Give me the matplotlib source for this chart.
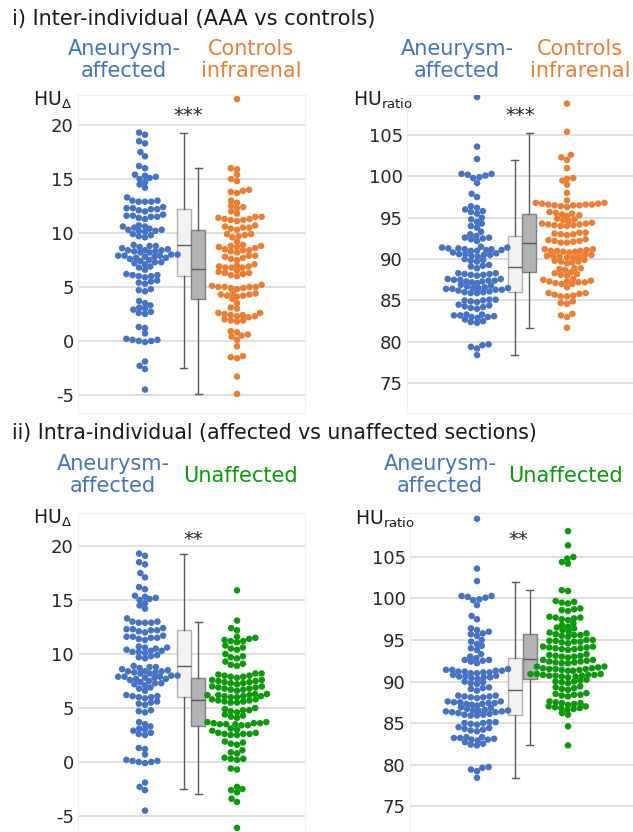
import numpy as np
import matplotlib
matplotlib.use("Agg")
import matplotlib.pyplot as plt

plt.rcParams['font.family'] = ['DejaVu Sans']
plt.rcParams['mathtext.fontset'] = 'dejavusans'
plt.rcParams['axes.unicode_minus'] = False

# ---------------- data ----------------
aaa_delta = [19.3, 19.1, 18.5, 18.3, 17.5, 17.1, 16.2, 16.0,
             15.4, 15.3, 15.2, 15.1, 15.0, 14.7, 14.5, 14.2,
             13.3, 13.0, 12.9, 12.9, 12.9, 13.0,
             12.3, 12.2, 12.1, 12.2, 12.0, 12.3, 12.4,
             11.6, 11.5, 11.4, 11.5, 11.3, 11.6, 11.7,
             10.6, 10.7, 10.5, 10.6,
             10.3, 10.2, 10.1, 10.2, 10.4, 10.3,
             9.7, 9.8, 9.6, 9.9,
             8.8, 8.7, 8.9, 8.6, 8.8,
             8.4, 8.4, 8.3, 8.2, 8.4, 8.3, 8.5, 8.2,
             7.9, 7.8, 8.0, 7.7, 7.9, 7.6, 8.0, 7.8, 7.9, 7.7,
             7.4, 7.3, 7.2, 7.5, 7.1, 7.3,
             6.8, 6.6, 6.9,
             6.1, 6.0, 6.2, 5.9, 6.1, 6.0,
             5.6, 5.4, 5.5, 5.3,
             4.8, 4.6, 4.7,
             3.7, 3.5, 3.3, 3.0, 3.1, 2.9,
             2.7, 2.5, 2.6,
             1.3, 1.2, 0.7,
             0.2, 0.1, 0.0, -0.1, 0.1, 0.0,
             -1.9, -2.3, -2.6, -4.5]

ctrl_delta = [22.4, 16.0, 15.9, 15.4, 15.0, 14.8,
              14.0, 13.8, 13.9, 13.7,
              13.0, 12.8, 12.5, 12.3, 12.4,
              12.0, 11.8, 11.5, 11.4, 11.5,
              11.3, 11.2, 11.1, 11.2, 11.3,
              10.6, 10.5, 10.4, 10.5, 10.3, 10.7,
              9.9, 9.8, 9.7, 9.9, 9.6,
              9.2, 8.8, 8.7, 8.9, 8.6, 8.7, 8.8,
              8.4, 8.5, 8.3, 8.4, 8.2,
              7.9, 7.6, 7.7, 7.8, 7.5, 7.9,
              7.1, 6.9, 6.8, 6.8, 7.0, 6.8, 6.9,
              6.5, 6.3, 6.4, 6.1, 6.0, 6.2, 6.3,
              5.2, 5.0, 4.9, 4.9, 5.0, 5.1, 5.0, 4.8, 5.0,
              4.4, 4.2, 4.3, 4.1, 4.3, 4.2, 4.4, 3.9,
              3.5, 3.1, 3.0,
              2.6, 2.4, 2.3, 2.5, 2.2, 2.4, 2.6, 2.3,
              2.0, 1.9, 1.8, 1.9,
              0.9, 0.6, 0.5, 0.8, 0.4, 0.1, -0.5,
              -1.4, -1.5, -1.6, -3.3, -4.9]

unaff_delta = [15.9, 13.1, 12.4, 12.2,
               11.6, 11.3, 11.2, 11.1, 11.5, 11.4, 11.2,
               10.8, 10.6, 10.4, 10.5,
               10.0, 9.8, 9.6, 9.7,
               9.3, 9.1, 8.9, 9.0,
               8.2, 8.0, 8.1, 7.9, 7.8, 8.0, 8.2, 7.9,
               7.6, 7.4, 7.3, 7.5, 7.2, 7.4, 7.3, 7.6, 7.5,
               7.0, 6.9, 6.8, 6.7, 6.9, 6.8, 6.7, 7.0, 6.6,
               6.3, 6.2, 6.1, 6.0, 6.2, 6.1, 6.3, 6.0, 6.2, 6.1,
               5.8, 5.7, 5.6, 5.5, 5.7, 5.8, 5.6, 5.5,
               5.0, 4.8, 4.7, 4.9, 4.6, 4.8,
               4.3, 4.2, 4.1, 4.4,
               3.7, 3.6, 3.5, 3.4, 3.6, 3.5, 3.7, 3.4, 3.5, 3.6,
               3.1, 3.0, 2.9,
               2.7, 2.6, 2.5, 2.6, 2.7, 2.5, 2.6,
               1.9, 1.7, 1.6, 1.8,
               1.1, 0.9, 0.8,
               0.4, 0.3, 0.2, 0.3,
               -0.6, -0.7, -2.3, -2.6, -2.5, -2.8, -3.4, -3.7, -6.1]

aaa_ratio = [109.6, 103.6, 102.1,
             100.3, 100.1, 99.8, 99.9, 100.2, 100.3, 99.2,
             97.9, 97.5,
             96.2, 96.0, 96.4, 95.7, 95.8, 95.5,
             95.0, 94.8, 94.5, 94.0, 93.8, 94.3,
             93.3, 93.0, 92.8, 92.6,
             92.5, 92.4, 92.2, 92.6,
             91.5, 91.4, 91.2, 91.0, 91.3, 91.1, 91.2, 91.0, 91.1, 91.4, 91.3,
             90.8, 90.6, 90.5, 90.7, 90.4, 90.3, 90.5, 90.6,
             89.9, 89.8, 89.7, 90.0,
             89.3, 89.1, 88.9, 89.2,
             88.3, 88.1, 88.2, 88.0, 88.3, 88.1, 88.2,
             87.5, 87.4, 87.3, 87.2, 87.6, 87.1, 87.4, 87.3, 87.5, 87.6,
             86.8, 86.7, 86.6, 86.9,
             86.5, 86.4, 86.3, 86.2, 86.5, 86.4, 86.3, 86.5,
             86.0, 85.9, 86.1, 85.9, 86.0,
             85.1, 85.0, 84.9, 84.8, 85.0, 85.1,
             84.5, 84.2, 84.1, 84.3, 84.4, 84.0,
             83.3, 83.2, 83.0, 82.9, 83.1, 83.2, 83.0, 83.3,
             82.7, 82.5, 82.3, 82.4,
             79.6, 79.4, 79.2, 79.7, 78.4]

ctrl_ratio = [108.8, 105.4, 102.6, 102.3, 102.0, 101.0,
              99.8, 99.5, 99.7, 99.0, 98.0, 97.1,
              96.8, 96.7, 96.6, 96.5, 96.4, 96.3, 96.5, 96.6, 96.7, 96.8, 96.6, 96.5,
              95.6, 95.5, 95.3, 95.4, 95.7, 95.2,
              94.9, 94.8, 94.6, 94.7,
              94.3, 94.2, 94.1, 94.0, 94.2, 94.3, 94.0, 94.1, 94.4,
              93.2, 93.0, 92.9, 93.1, 93.2, 93.0,
              92.4, 92.2, 92.0, 92.1, 92.3, 92.2, 92.0,
              91.2, 91.0, 90.9, 91.1, 90.8, 91.0, 90.9, 91.2, 91.0,
              90.5, 90.4, 90.3, 90.2, 90.4, 90.3, 90.5, 90.2,
              89.9, 89.7, 89.6, 89.8, 89.5, 89.7,
              88.9, 88.8, 88.7, 88.9,
              88.4, 88.2, 88.1, 88.3, 88.0,
              87.6, 87.5, 87.3, 87.2, 87.0, 87.1, 87.4, 87.2, 87.3, 87.0,
              86.6,
              85.9, 85.7, 85.5, 85.6, 85.8, 85.5, 85.9,
              84.9, 84.7, 84.6,
              83.4, 83.2, 83.0, 81.7]

unaff_ratio = [108.1, 106.4, 105.0, 104.8, 104.4, 104.2,
               101.0, 100.9,
               99.7, 99.6, 99.4, 99.5,
               98.8, 98.6, 98.5, 98.7,
               97.8, 97.7, 97.5, 97.6, 97.4, 97.7,
               97.0, 96.6, 96.4, 96.2, 96.5, 96.8,
               96.0, 95.8, 95.6, 95.5, 95.9, 95.7, 95.4, 95.6,
               95.0, 94.9, 94.8, 94.7, 94.9, 95.0, 94.8, 94.6,
               94.2, 94.0, 93.9, 94.1, 93.8, 94.0, 94.1, 93.9, 94.2,
               93.3, 93.1, 93.0, 93.2, 92.9, 93.1, 93.0,
               92.6, 92.4, 92.3, 92.5, 92.2, 92.4, 92.3, 92.6, 92.2,
               91.8, 91.6, 91.5, 91.4, 91.7, 91.3, 91.6, 91.5, 91.4, 91.8, 91.3, 91.5,
               90.9, 90.8, 90.7, 90.6, 90.9, 90.7, 90.8, 90.6, 90.9, 90.7, 90.8, 90.5,
               90.2, 90.0, 89.9, 90.1, 89.8, 90.0,
               89.4, 89.2, 89.0, 89.3, 89.1,
               88.6, 88.4, 88.3, 88.5, 88.2, 88.4,
               87.6, 87.4, 87.3, 87.5, 87.2, 87.4,
               87.0, 86.8, 86.7, 86.9, 86.6, 86.8, 87.0,
               86.2, 86.0, 84.6, 82.3]

# box statistics: [q1, median, q3, whisker_low, whisker_high]
box_aaa_delta = [6.0, 8.9, 12.2, -2.5, 19.3]
box_ctrl_delta = [3.9, 6.7, 10.3, -4.9, 16.0]
box_unaff_delta = [3.3, 5.7, 7.8, -3.0, 13.0]
box_aaa_ratio = [86.0, 89.0, 92.8, 78.4, 102.0]
box_ctrl_ratio = [88.4, 92.0, 95.5, 81.7, 105.3]
box_unaff_ratio = [90.3, 92.7, 95.7, 82.3, 101.0]

delta_ticks = [-5, 0, 5, 10, 15, 20]
ratio_ticks = [75, 80, 85, 90, 95, 100, 105]

title_top = "i) Inter-individual (AAA vs controls)"
title_bottom = "ii) Intra-individual (affected vs unaffected sections)"
lab_aaa = "Aneurysm-\naffected"
lab_ctrl = "Controls\ninfrarenal"
lab_unaff = "Unaffected"

BLUE = '#4472C4'
ORANGE = '#ED7D31'
GREEN = '#0A9A0A'

W, H = 633, 832
fig = plt.figure(figsize=(W / 100, H / 100), dpi=100)


def add_ax(x0, y0, x1, y1):
    return fig.add_axes([x0 / W, 1 - y1 / H, (x1 - x0) / W, (y1 - y0) / H])


def swarm(vals, xpx, ypx, d=6.3, tol=1.3):
    """Beeswarm: candidates touch a neighbour at distance d, a small
    overlap (tol) with other neighbours is tolerated so rows interleave."""
    vals = np.asarray(vals, float)
    order = np.argsort(vals, kind='stable')
    placed = []
    xs = np.zeros(len(vals))
    dmin2 = (d - tol) ** 2
    for i in order:
        y = vals[i] * ypx
        near = [(px, py) for px, py in placed if abs(py - y) < d]
        cands = [0.0]
        for px, py in near:
            dx = np.sqrt(max(d * d - (py - y) ** 2, 0))
            cands += [px - dx, px + dx]
        cands.sort(key=lambda c: (abs(c), c))
        chosen = cands[-1]
        for c in cands:
            if all((c - px) ** 2 + (y - py) ** 2 >= dmin2 for px, py in near):
                chosen = c
                break
        placed.append((chosen, y))
        xs[i] = chosen
    return xs / xpx


def panel(ax, left_vals, right_vals, left_col, right_col, box_l, box_r,
          xlim, ylim, ticks):
    ax.set_xlim(*xlim)
    ax.set_ylim(*ylim)
    bb = ax.get_position()
    xpx = bb.width * W / (xlim[1] - xlim[0])
    ypx = bb.height * H / (ylim[1] - ylim[0])
    for vals, pos, col in [(left_vals, 0.0, left_col), (right_vals, 1.0, right_col)]:
        off = swarm(vals, xpx, ypx)
        ax.scatter(pos + off, vals, s=22, color=col, edgecolors='none', zorder=3)
    stats = []
    for b in (box_l, box_r):
        stats.append(dict(q1=b[0], med=b[1], q3=b[2], whislo=b[3], whishi=b[4], fliers=[]))
    bp = ax.bxp(stats, positions=[0.42, 0.58], widths=0.155, patch_artist=True,
                showfliers=False, capwidths=0.075,
                medianprops=dict(color='#595959', lw=1.0),
                whiskerprops=dict(color='#595959', lw=1.0),
                capprops=dict(color='#595959', lw=1.0),
                boxprops=dict(lw=1.0), manage_ticks=False, zorder=2)
    bp['boxes'][0].set_facecolor('#f2f2f2')
    bp['boxes'][0].set_edgecolor('#b0b0b0')
    bp['boxes'][1].set_facecolor('#b3b3b3')
    bp['boxes'][1].set_edgecolor('#808080')
    ax.set_yticks(ticks)
    ax.set_yticklabels([str(t) for t in ticks])
    ax.set_xticks([])
    ax.tick_params(axis='y', length=0, pad=3, labelsize=13, labelcolor='#262626')
    ax.grid(axis='y', color='#d9d9d9', lw=1.2, zorder=0)
    ax.set_axisbelow(True)
    for s in ax.spines.values():
        s.set_color('#eeeeee')
        s.set_linewidth(0.8)


def T(x, y, s, **kw):
    kw.setdefault('ha', 'center')
    kw.setdefault('va', 'center')
    fig.text(x / W, 1 - y / H, s, **kw)


ax1 = add_ax(78, 95, 305, 413)
panel(ax1, aaa_delta, ctrl_delta, BLUE, ORANGE, box_aaa_delta, box_ctrl_delta,
      (-0.728, 1.739), (-6.67, 22.78), delta_ticks)
ax2 = add_ax(407, 95, 633, 413)
panel(ax2, aaa_ratio, ctrl_ratio, BLUE, ORANGE, box_aaa_ratio, box_ctrl_ratio,
      (-0.778, 1.733), (71.4, 109.84), ratio_ticks)
ax3 = add_ax(78, 513, 305, 832)
panel(ax3, aaa_delta, unaff_delta, BLUE, GREEN, box_aaa_delta, box_unaff_delta,
      (-0.728, 1.739), (-6.48, 23.06), delta_ticks)
ax4 = add_ax(410, 513, 633, 832)
panel(ax4, aaa_ratio, unaff_ratio, BLUE, GREEN, box_aaa_ratio, box_unaff_ratio,
      (-0.736, 1.714), (71.87, 110.3), ratio_ticks)

# titles
T(12, 19, title_top, ha='left', fontsize=15, color='#1a1a1a')
T(12, 433, title_bottom, ha='left', fontsize=14.8, color='#1a1a1a')

cat_fs = 15
T(124, 60, lab_aaa, color=BLUE, fontsize=cat_fs, linespacing=1.1)
T(251, 60, lab_ctrl, color=ORANGE, fontsize=cat_fs, linespacing=1.1)
T(457, 60, lab_aaa, color=BLUE, fontsize=cat_fs, linespacing=1.1)
T(580, 60, lab_ctrl, color=ORANGE, fontsize=cat_fs, linespacing=1.1)
T(113, 475, lab_aaa, color=BLUE, fontsize=cat_fs, linespacing=1.1)
T(240, 476, lab_unaff, color=GREEN, fontsize=cat_fs)
T(440, 475, lab_aaa, color=BLUE, fontsize=cat_fs, linespacing=1.1)
T(565, 476, lab_unaff, color=GREEN, fontsize=cat_fs)

# y-axis unit labels
T(33, 100, r'HU$_{\Delta}$', ha='left', fontsize=13.5, color='#1a1a1a')
T(353, 100, r'HU$_{\mathrm{ratio}}$', ha='left', fontsize=13.5, color='#1a1a1a')
T(33, 518, r'HU$_{\Delta}$', ha='left', fontsize=13.5, color='#1a1a1a')
T(355, 519, r'HU$_{\mathrm{ratio}}$', ha='left', fontsize=13.5, color='#1a1a1a')

# significance
T(188, 115, '***', fontsize=14, color='#262626')
T(520, 115, '***', fontsize=14, color='#262626')
T(193, 540, '**', fontsize=14, color='#262626')
T(518, 540, '**', fontsize=14, color='#262626')

fig.savefig('out.png', dpi=100)
